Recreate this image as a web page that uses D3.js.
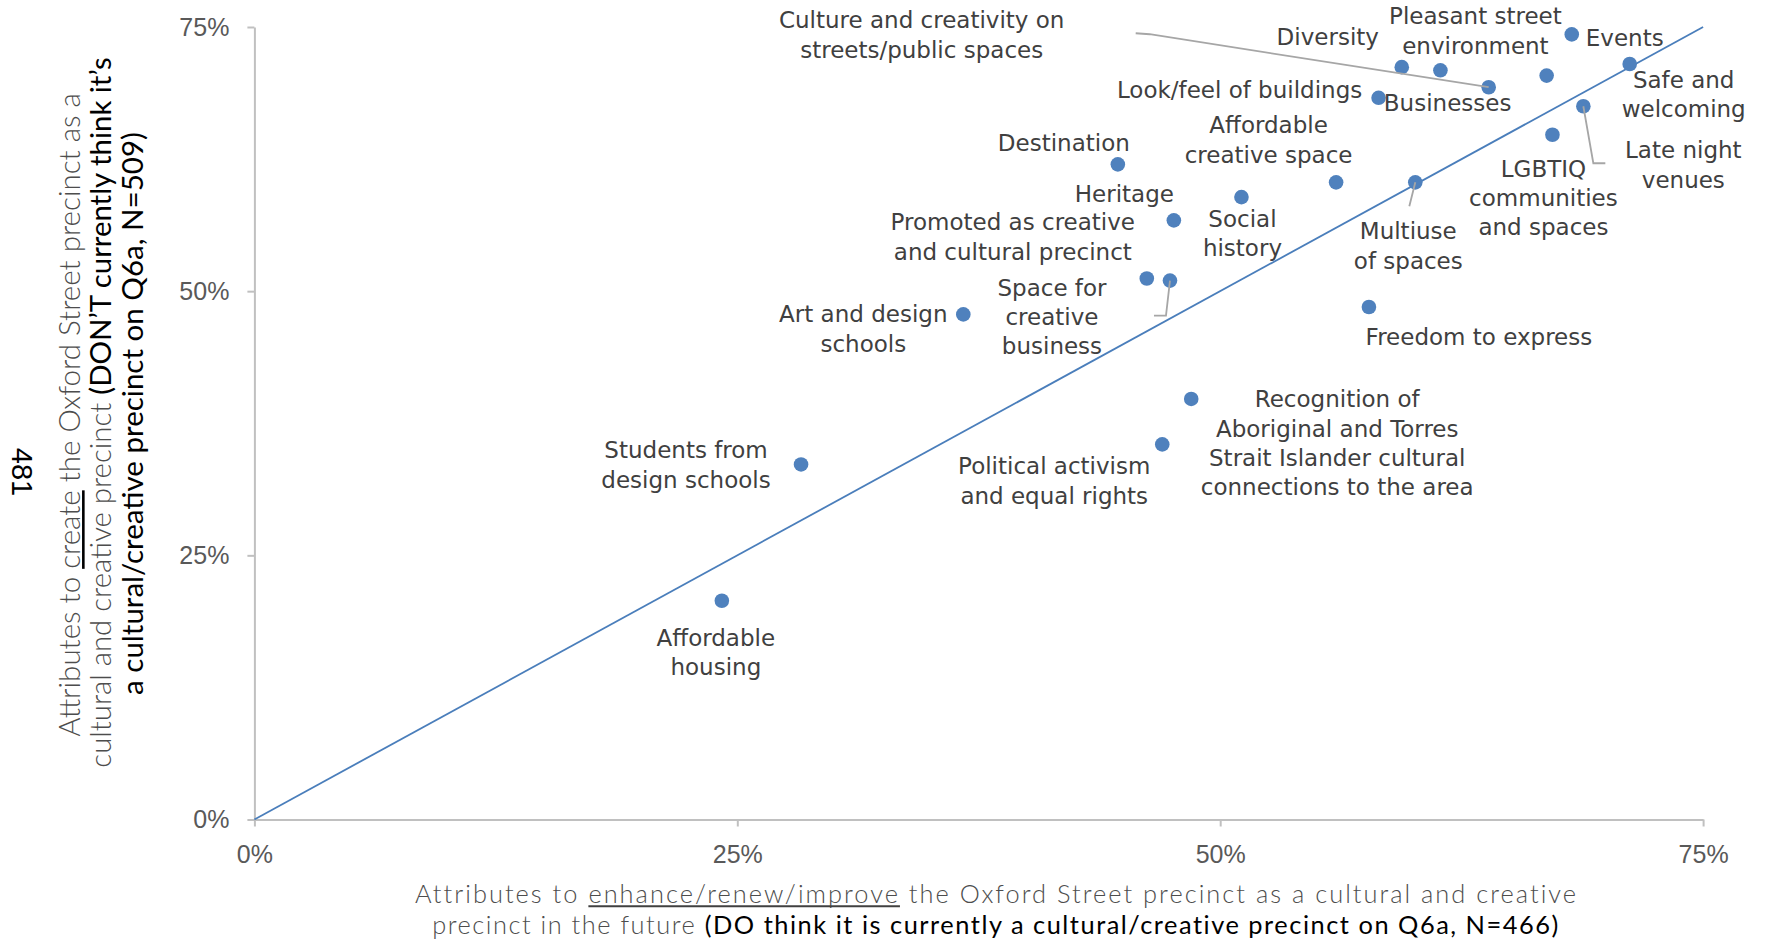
<!DOCTYPE html>
<html>
<head>
<meta charset="utf-8">
<script src="https://cdn.jsdelivr.net/npm/d3@7"></script>
<style>
  html, body { margin: 0; padding: 0; background: #fff; }
  svg { display: block; }
</style>
</head>
<body>
<script>
// Attributes (label text, line breaks included)
const attributes = [
  "Affordable\nhousing",
  "Students from\ndesign schools",
  "Art and design\nschools",
  "Destination",
  "Promoted as creative\nand cultural precinct",
  "Space for\ncreative\nbusiness",
  "Heritage",
  "Social\nhistory",
  "Affordable\ncreative space",
  "Multiuse\nof spaces",
  "Freedom to express",
  "Recognition of\nAboriginal and Torres\nStrait Islander cultural\nconnections to the area",
  "Political activism\nand equal rights",
  "Look/feel of buildings",
  "Diversity",
  "Pleasant street\nenvironment",
  "Culture and creativity on\nstreets/public spaces",
  "Businesses",
  "Events",
  "Safe and\nwelcoming",
  "Late night\nvenues",
  "LGBTIQ\ncommunities\nand spaces"
];

// % choosing the attribute to enhance/renew/improve (DO think it is a precinct, N=466)
const enhanceShare = [24.2, 28.3, 36.7, 44.7, 46.2, 47.4, 47.6, 51.1, 56.0, 60.1, 57.7,
                      48.5, 47.0, 58.2, 59.4, 61.4, 63.9, 66.9, 68.2, 71.2, 68.8, 67.2];

// % choosing the attribute to create the precinct (DON'T think it is one, N=509)
const createShare = [20.7, 33.6, 47.8, 62.0, 51.2, 51.0, 56.7, 58.9, 60.3, 60.3, 48.5,
                     39.8, 35.5, 68.3, 71.2, 70.9, 69.3, 70.4, 74.3, 71.5, 67.5, 64.8];

const axisTicks = [0, 25, 50, 75];
const parity = [0, 75];

// Label placement: offset of the text centre / first baseline from its point (px)
const labelPlacement = {
  "Affordable\nhousing": [-6, 45],
  "Students from\ndesign schools": [-115, -6],
  "Art and design\nschools": [-100, 8],
  "Destination": [-54, -13],
  "Promoted as creative\nand cultural precinct": [-134, -48],
  "Space for\ncreative\nbusiness": [-118, 15],
  "Heritage": [-49.5, -18],
  "Social\nhistory": [1, 30],
  "Affordable\ncreative space": [-67.5, -49],
  "Multiuse\nof spaces": [-7, 57],
  "Freedom to express": [110, 38],
  "Recognition of\nAboriginal and Torres\nStrait Islander cultural\nconnections to the area": [146, 8.5],
  "Political activism\nand equal rights": [-108, 30],
  "Look/feel of buildings": [-139, 0],
  "Diversity": [-74, -22],
  "Pleasant street\nenvironment": [35, -46],
  "Culture and creativity on\nstreets/public spaces": [-567, -59],
  "Businesses": [-99, 35],
  "Events": [53, 12],
  "Safe and\nwelcoming": [54, 24],
  "Late night\nvenues": [100, 52],
  "LGBTIQ\ncommunities\nand spaces": [-9, 42]
};

// Leader lines from a point to its moved label (px, relative to the point)
const leaderLines = {
  "Space for\ncreative\nbusiness": [[0, 0], [-4, 35], [-16, 35]],
  "Multiuse\nof spaces": [[0, 0], [-6, 24]],
  "Culture and creativity on\nstreets/public spaces": [[0, 0], [-339, -53], [-353, -54]],
  "Late night\nvenues": [[0, 0], [10, 57], [22, 57]]
};

const yTitle = [
  [{ t: "Attributes to " }, { t: "create", u: true }, { t: " the Oxford Street precinct as a" }],
  [{ t: "cultural and creative precinct " }, { t: "(DON\u2019T currently think it\u2019s", dark: true }],
  [{ t: "a cultural/creative precinct on Q6a, N=509)", dark: true }]
];
const xTitle = [
  [{ t: "Attributes to " }, { t: "enhance/renew/improve", u: true }, { t: " the Oxford Street precinct as a cultural and creative" }],
  [{ t: "precinct in the future " }, { t: "(DO think it is currently a cultural/creative precinct on Q6a, N=466)", dark: true }]
];

const W = 1765, H = 941;
const svg = d3.select("body").append("svg")
  .attr("width", W).attr("height", H).attr("viewBox", `0 0 ${W} ${H}`);
svg.append("rect").attr("width", W).attr("height", H).attr("fill", "#fff");

const x = d3.scaleLinear().domain([0, 75]).range([254.4, 1703.1]);
const y = d3.scaleLinear().domain([0, 75]).range([819.5, 27]);
const pct = d => d + "%";

// Axes
const gx = svg.append("g").attr("transform", `translate(0,${y(0)})`)
  .call(d3.axisBottom(x).tickValues(axisTicks).tickFormat(pct)
    .tickSizeInner(7).tickSizeOuter(0).tickPadding(19));
const gy = svg.append("g").attr("transform", `translate(${x(0)},0)`)
  .call(d3.axisLeft(y).tickValues(axisTicks).tickFormat(pct)
    .tickSizeInner(7).tickSizeOuter(0).tickPadding(18));
[gx, gy].forEach(g => {
  g.select(".domain").attr("stroke", "#c0c0c0").attr("stroke-width", 2);
  g.selectAll(".tick line").attr("stroke", "#c0c0c0").attr("stroke-width", 2);
  g.selectAll(".tick text")
    .attr("fill", "#595959")
    .attr("font-family", "'Liberation Sans', Arial, sans-serif")
    .attr("font-size", 25);
});

// y = x reference line
svg.append("path")
  .datum(parity)
  .attr("d", d3.line().x(d => x(d)).y(d => y(d)))
  .attr("fill", "none")
  .attr("stroke", "#4a7ebb")
  .attr("stroke-width", 1.8);

const idx = d3.range(attributes.length);

// Points
svg.append("g").selectAll("circle").data(idx).join("circle")
  .attr("cx", i => x(enhanceShare[i]))
  .attr("cy", i => y(createShare[i]))
  .attr("r", 7.3)
  .attr("fill", "#4f81bd");

// Leader lines
svg.append("g").selectAll("path")
  .data(idx.filter(i => leaderLines[attributes[i]]))
  .join("path")
  .attr("d", i => {
    const px = x(enhanceShare[i]), py = y(createShare[i]);
    return d3.line()(leaderLines[attributes[i]].map(([dx, dy]) => [px + dx, py + dy]));
  })
  .attr("fill", "none")
  .attr("stroke", "#a6a6a6")
  .attr("stroke-width", 1.8);

// Data labels
const lineGap = 29.3;
const labels = svg.append("g")
  .attr("font-family", "'DejaVu Sans', sans-serif")
  .attr("font-size", 23)
  .attr("fill", "#404040")
  .attr("text-anchor", "middle");
idx.forEach(i => {
  const name = attributes[i];
  const [dx, dy] = labelPlacement[name];
  const cx = x(enhanceShare[i]) + dx;
  const by = y(createShare[i]) + dy;
  const txt = labels.append("text");
  name.split("\n").forEach((line, k) => {
    txt.append("tspan").attr("x", cx).attr("y", by + k * lineGap).text(line);
  });
});

// Axis titles: each line is fitted to its width (by size, or by spacing when
// the size is fixed), with an underlined key word
function titleLine(parent, parts, cx, baseline, width, fixedSize, ulColor, ulWidth) {
  const base = fixedSize || 20;
  const t = parent.append("text")
    .attr("x", cx).attr("y", baseline)
    .attr("text-anchor", "middle")
    .attr("font-family", "Lato, 'DejaVu Sans', sans-serif")
    .attr("font-size", base);
  parts.forEach(p => {
    t.append("tspan")
      .attr("fill", p.dark ? "#000" : "#4d4d4d")
      .attr("font-weight", p.dark ? 400 : 300)
      .text(p.t);
  });
  const natural = t.node().getComputedTextLength();
  let fs = base;
  if (fixedSize) {
    const nChars = parts.reduce((s, p) => s + p.t.length, 0);
    t.attr("letter-spacing", (width - natural) / nChars);
  } else {
    fs = base * width / natural;
    t.attr("font-size", fs);
  }
  let offset = 0;
  parts.forEach(p => {
    if (p.u) {
      const a = t.node().getStartPositionOfChar(offset).x;
      const b = t.node().getEndPositionOfChar(offset + p.t.length - 1).x;
      parent.append("line")
        .attr("x1", a).attr("x2", b)
        .attr("y1", baseline + fs * 0.13).attr("y2", baseline + fs * 0.13)
        .attr("stroke", ulColor).attr("stroke-width", ulWidth);
    }
    offset += p.t.length;
  });
}

const gyt = svg.append("g").attr("transform", "rotate(-90)");
titleLine(gyt, yTitle[0], -415, 79.5, 644, 0, "#000", 2.6);
titleLine(gyt, yTitle[1], -412.5, 111, 711, 0, "#000", 2.6);
titleLine(gyt, yTitle[2], -413.5, 143, 563, 0, "#000", 2.6);

const gxt = svg.append("g");
titleLine(gxt, xTitle[0], 996.5, 903, 1163, 25.4, "#404040", 2);
titleLine(gxt, xTitle[1], 996, 933.5, 1128, 25.4, "#404040", 2);

// Page number
svg.append("text")
  .attr("transform", "translate(12,472) rotate(90)")
  .attr("text-anchor", "middle")
  .attr("font-family", "'Liberation Sans', Arial, sans-serif")
  .attr("font-size", 29)
  .attr("fill", "#000")
  .text("481");
</script>
</body>
</html>
